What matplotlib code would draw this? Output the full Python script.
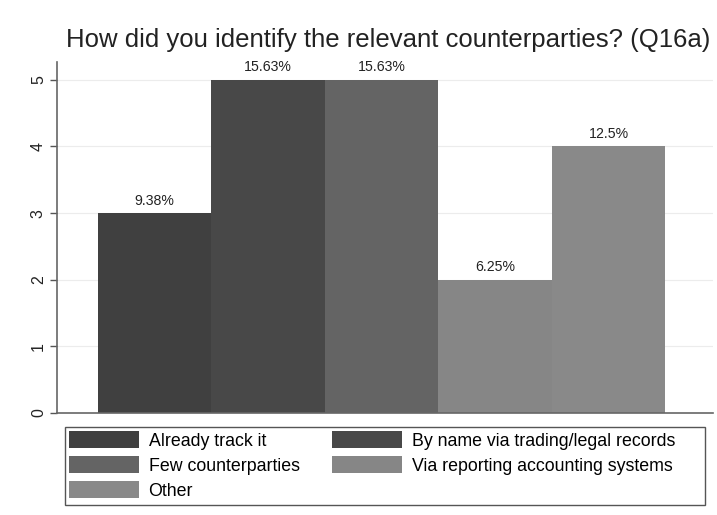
import matplotlib as mpl
import matplotlib.pyplot as plt
from matplotlib.patches import Patch, Rectangle

mpl.rc('font', family=['Liberation Sans', 'DejaVu Sans'])

# answers and counts (Q16a)
categories = ['Already track it', 'By name via trading/legal records',
              'Few counterparties', 'Via reporting accounting systems', 'Other']
counts = [3, 5, 5, 2, 4]
pct_labels = ['9.38%', '15.63%', '15.63%', '6.25%', '12.5%']
colors = ['#404040', '#484848', '#646464', '#868686', '#898989']

fig = plt.figure(figsize=(7.17, 5.15), dpi=100)
ax = fig.add_axes([0.0795, 0.198, 0.915, 0.682])

xs = list(range(len(categories)))
bars = ax.bar(xs, counts, width=1.0, color=colors, linewidth=0, zorder=2)

for x, c, lab in zip(xs, counts, pct_labels):
    ax.annotate(lab, (x, c), xytext=(0, 4), textcoords='offset points',
                ha='center', va='bottom', fontsize=10.2, color='#222222')

ax.set_xlim(-0.86, 4.92)
ax.set_ylim(0, 5.27)
ax.set_yticks(range(0, 6))
ax.set_yticklabels([str(v) for v in range(0, 6)], rotation=90, va='center',
                   fontsize=11.5, color='#222222')
ax.set_xticks([])
ax.yaxis.grid(True, color='#ececec', linewidth=0.8, zorder=0)
ax.tick_params(axis='y', length=5, width=1, color='#555555', pad=3)

for s in ['top', 'right']:
    ax.spines[s].set_visible(False)
ax.spines['left'].set_color('#666666')
ax.spines['bottom'].set_color('#666666')
ax.spines['left'].set_linewidth(1.2)
ax.spines['bottom'].set_linewidth(1.2)

fig.text(0.541, 0.922, 'How did you identify the relevant counterparties? (Q16a)',
         ha='center', va='center', fontsize=18.5, color='#222222')

# legend filled column by column, so reorder to read row by row
order = [0, 2, 4, 1, 3]
handles = [Patch(facecolor=colors[i], edgecolor='none') for i in order]
labels = [categories[i] for i in order]
leg = fig.legend(handles, labels, ncol=2, loc='upper left',
                 bbox_to_anchor=(0.0907, 0.171), borderaxespad=0.0,
                 fontsize=12.8, frameon=False,
                 handlelength=3.9, handleheight=1.1, handletextpad=0.55,
                 labelspacing=0.36, borderpad=0.25, columnspacing=1.85)

# stata-like legend box, a bit wider than the entries
fig.add_artist(Rectangle((0.0907, 0.0194), 0.892, 0.1516,
                         transform=fig.transFigure, fill=False,
                         edgecolor='#555555', linewidth=1.0))

fig.savefig('out.png', dpi=100)
